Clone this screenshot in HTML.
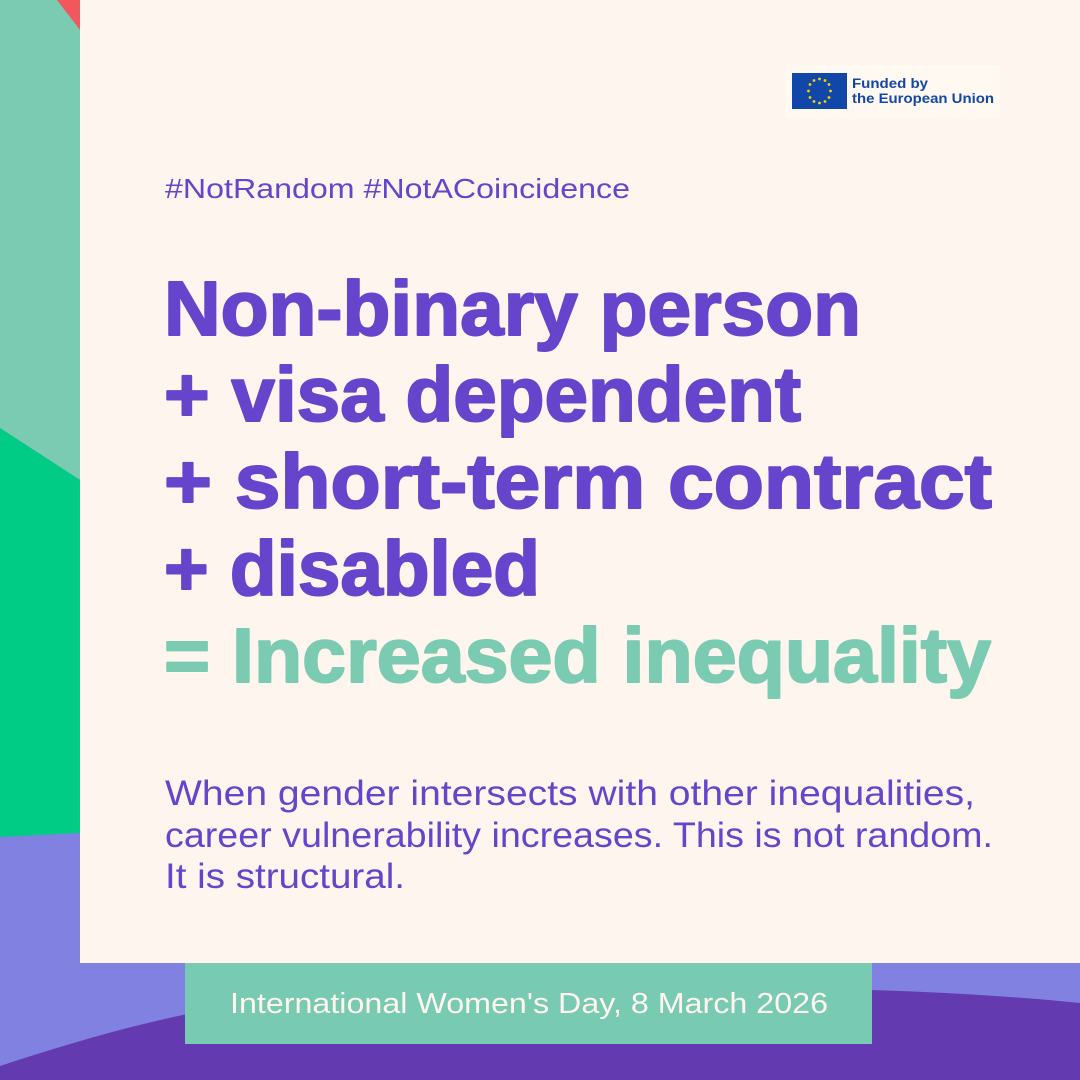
<!DOCTYPE html>
<html><head><meta charset="utf-8"><style>
html,body{margin:0;padding:0;width:1080px;height:1080px;overflow:hidden;background:#8181E2}
svg{display:block}
</style></head><body>
<svg width="1080" height="1080" viewBox="0 0 1080 1080" xmlns="http://www.w3.org/2000/svg">
<rect width="1080" height="1080" fill="#8181E2"/>
<polygon points="0,0 80,0 80,480 0,428" fill="#7ACBB2"/>
<polygon points="0,428 80,480 80,833 0,837" fill="#00CC85"/>
<polygon points="57,0 80,0 80,30" fill="#F0585E"/>
<path d="M0,1066 C200,1000 300,990 500,988 C800,985 950,990 1080,1003 L1080,1080 L0,1080 Z" fill="#643AB0"/>
<rect x="80" y="0" width="1000" height="963" fill="#FEF5EF"/>
<rect x="785" y="65" width="215" height="53" fill="#FFF9F2"/>
<rect x="792" y="73" width="55" height="36" fill="#1047A8"/>
<g fill="#F5D300">
<circle cx="819.5" cy="79" r="1.4"/><circle cx="825" cy="80.5" r="1.4"/><circle cx="829" cy="84.5" r="1.4"/><circle cx="830.5" cy="91" r="1.4"/><circle cx="829" cy="97.5" r="1.4"/><circle cx="825" cy="101.5" r="1.4"/><circle cx="819.5" cy="103" r="1.4"/><circle cx="814" cy="101.5" r="1.4"/><circle cx="810" cy="97.5" r="1.4"/><circle cx="808.5" cy="91" r="1.4"/><circle cx="810" cy="84.5" r="1.4"/><circle cx="814" cy="80.5" r="1.4"/>
</g>
<g font-family="Liberation Sans, sans-serif" font-weight="bold" font-size="14" fill="#1047A8">
<text x="852" y="88" textLength="76" lengthAdjust="spacingAndGlyphs">Funded by</text>
<text x="852" y="103" textLength="142" lengthAdjust="spacingAndGlyphs">the European Union</text>
</g>
<g font-family="Liberation Sans, sans-serif" fill="#6645CC">
<text x="165" y="198" font-size="28" textLength="465" lengthAdjust="spacingAndGlyphs">#NotRandom #NotACoincidence</text>
<g font-weight="bold" font-size="77" stroke="#6645CC" stroke-width="2" stroke-linejoin="round">
<text x="164" y="335" textLength="697" lengthAdjust="spacingAndGlyphs">Non-binary person</text>
<text x="164" y="421" textLength="637" lengthAdjust="spacingAndGlyphs">+ visa dependent</text>
<text x="164" y="508" textLength="828" lengthAdjust="spacingAndGlyphs">+ short-term contract</text>
<text x="164" y="595" textLength="376" lengthAdjust="spacingAndGlyphs">+ disabled</text>
<text x="164" y="682" textLength="827" lengthAdjust="spacingAndGlyphs" fill="#7ACBB2" stroke="#7ACBB2">= Increased inequality</text>
</g>
<g font-size="35">
<text x="165" y="805" textLength="810" lengthAdjust="spacingAndGlyphs">When gender intersects with other inequalities,</text>
<text x="165" y="847" textLength="828" lengthAdjust="spacingAndGlyphs">career vulnerability increases. This is not random.</text>
<text x="165" y="888" textLength="240" lengthAdjust="spacingAndGlyphs">It is structural.</text>
</g>
</g>
<rect x="185" y="963" width="687" height="81" fill="#78CBB2"/>
<text x="230" y="1013" font-family="Liberation Sans, sans-serif" font-size="29" fill="#FEF5EF" textLength="598" lengthAdjust="spacingAndGlyphs">International Women's Day, 8 March 2026</text>
</svg>
</body></html>
